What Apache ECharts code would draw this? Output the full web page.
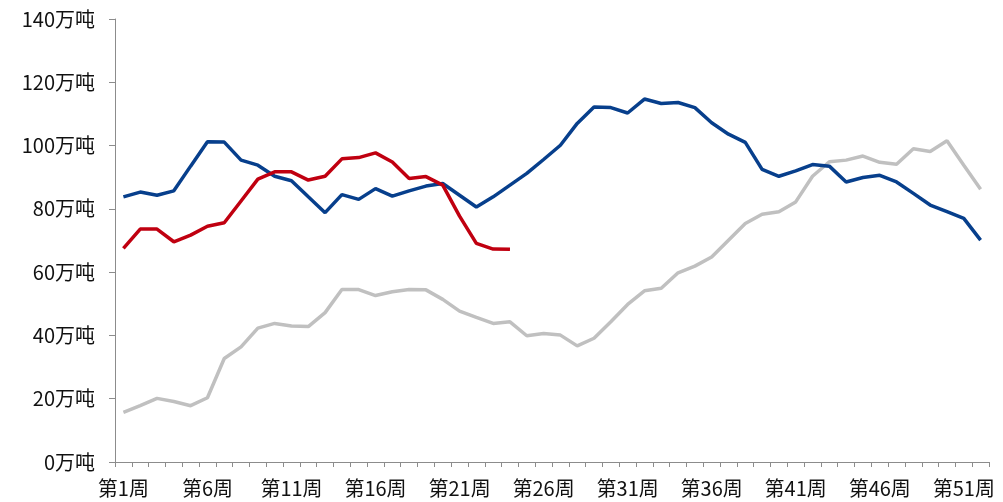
<!DOCTYPE html>
<html>
<head>
<meta charset="utf-8">
<script src="https://cdn.jsdelivr.net/npm/echarts@6/dist/echarts.min.js"></script>
<style>
html,body{margin:0;padding:0;background:#fff;}
#chart{width:1003px;height:502px;}
</style>
</head>
<body>
<div id="chart"></div>
<script>
var weeks = [];
for (var w = 1; w <= 52; w++) weeks.push('第' + w + '周');

var grayValues = [15.7, 17.8, 20.1, 19.1, 17.8, 20.3, 32.7, 36.4, 42.3, 43.8,
  43.0, 42.8, 47.2, 54.5, 54.5, 52.6, 53.8, 54.5, 54.4, 51.4,
  47.7, 45.7, 43.8, 44.3, 39.9, 40.6, 40.1, 36.7, 39.1, 44.3,
  49.8, 54.1, 54.9, 59.8, 61.9, 64.8, 70.1, 75.4, 78.3, 79.1,
  82.2, 90.3, 94.9, 95.4, 96.7, 94.7, 94.1, 99.0, 98.1, 101.5,
  93.8, 86.2];

var blueValues = [83.8, 85.3, 84.3, 85.7, 93.5, 101.2, 101.1, 95.4, 93.8, 90.3,
  88.9, 83.8, 78.8, 84.5, 83.0, 86.4, 84.0, 85.7, 87.2, 88.0,
  84.3, 80.6, 83.8, 87.5, 91.2, 95.6, 100.1, 107.0, 112.2, 112.0,
  110.3, 114.7, 113.3, 113.6, 112.0, 107.2, 103.6, 101.0, 92.5, 90.3,
  92.0, 94.0, 93.5, 88.5, 89.9, 90.6, 88.5, 84.9, 81.2, 79.1,
  77.0, 70.1];

var redValues = [67.5, 73.6, 73.6, 69.6, 71.7, 74.5, 75.6, 82.5, 89.4, 91.7,
  91.7, 89.1, 90.3, 95.8, 96.2, 97.7, 94.8, 89.6, 90.2, 87.5,
  77.7, 69.1, 67.3, 67.2];

var yTicks = [0, 20, 40, 60, 80, 100, 120, 140];

var font = '"Noto Sans CJK SC", "Noto Sans", sans-serif';
var chart = echarts.init(document.getElementById('chart'), null, {renderer: 'canvas'});
chart.setOption({
  animation: false,
  backgroundColor: '#ffffff',
  grid: {left: 115, right: 14, top: 19, bottom: 40, containLabel: false},
  xAxis: {
    type: 'category',
    data: weeks,
    boundaryGap: true,
    axisLine: {lineStyle: {color: '#8c8c8c', width: 1}},
    axisTick: {show: true, interval: 0, length: 5, lineStyle: {color: '#8c8c8c'}},
    axisLabel: {interval: 4, color: '#111111', fontSize: 20, fontFamily: font, margin: 16}
  },
  yAxis: {
    type: 'value',
    min: yTicks[0],
    max: yTicks[yTicks.length - 1],
    interval: 20,
    axisLine: {show: true, lineStyle: {color: '#8c8c8c', width: 1}},
    axisTick: {show: true, length: 6, lineStyle: {color: '#8c8c8c'}},
    splitLine: {show: false},
    axisLabel: {color: '#111111', fontSize: 20, fontFamily: font, margin: 20,
      formatter: function (v) { return v + '万吨'; }}
  },
  series: [
    {type: 'line', data: grayValues, symbol: 'none', lineStyle: {color: '#c0c0c0', width: 3.5}, z: 2},
    {type: 'line', data: blueValues, symbol: 'none', lineStyle: {color: '#073f8c', width: 3.5}, z: 3},
    {type: 'line', data: redValues, symbol: 'none', lineStyle: {color: '#c00010', width: 3.5}, z: 4}
  ]
});
</script>
</body>
</html>
